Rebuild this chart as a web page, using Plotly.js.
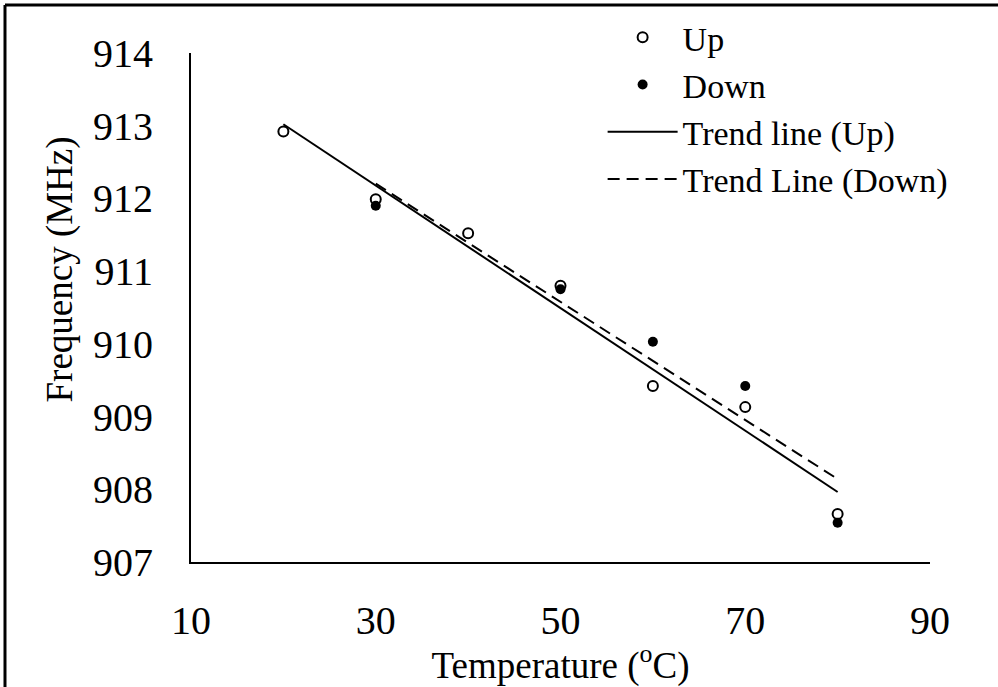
<!DOCTYPE html>
<html>
<head>
<meta charset="utf-8">
<script src="https://cdn.plot.ly/plotly-3.0.1.min.js"></script>
<style>
html,body{margin:0;padding:0;background:#fff;}
#chart{width:998px;height:687px;}
</style>
</head>
<body>
<div id="chart"></div>
<script>
// Data
var tempUp = [20, 30, 40, 50, 60, 70, 80];
var freqUp = [912.92, 911.99, 911.52, 910.80, 909.42, 909.13, 907.66];
var tempDown = [30, 50, 60, 70, 80];
var freqDown = [911.90, 910.75, 910.03, 909.42, 907.54];
var xTicks = [10, 30, 50, 70, 90];
var yTicks = [907, 908, 909, 910, 911, 912, 913, 914];
var seriesNames = ['Up', 'Down', 'Trend line (Up)', 'Trend Line (Down)'];
var xTitle = 'Temperature (<sup>o</sup>C)';
var yTitle = 'Frequency (MHz)';

// Least-squares trend lines from the data
function trend(xs, ys) {
  var n = xs.length, mx = 0, my = 0;
  for (var i = 0; i < n; i++) { mx += xs[i]; my += ys[i]; }
  mx /= n; my /= n;
  var sxy = 0, sxx = 0;
  for (var j = 0; j < n; j++) { sxy += (xs[j] - mx) * (ys[j] - my); sxx += (xs[j] - mx) * (xs[j] - mx); }
  var b = sxy / sxx, a = my - b * mx;
  var x0 = Math.min.apply(null, xs), x1 = Math.max.apply(null, xs);
  return { x: [x0, x1], y: [a + b * x0, a + b * x1] };
}
var tUp = trend(tempUp, freqUp);
var tDown = trend(tempDown, freqDown);

var FONT = 'Liberation Serif, Times New Roman, serif';

var traces = [
  { x: tempUp, y: freqUp, name: seriesNames[0], mode: 'markers', type: 'scatter',
    marker: { symbol: 'circle', size: 10, color: '#ffffff', line: { color: '#000', width: 2 } } },
  { x: tempDown, y: freqDown, name: seriesNames[1], mode: 'markers', type: 'scatter',
    marker: { symbol: 'circle', size: 10, color: '#000' } },
  { x: tUp.x, y: tUp.y, name: seriesNames[2], mode: 'lines', type: 'scatter',
    line: { color: '#000', width: 2 } },
  { x: tDown.x, y: tDown.y, name: seriesNames[3], mode: 'lines', type: 'scatter',
    line: { color: '#000', width: 2, dash: '12px,7px' } }
];

var layout = {
  width: 998, height: 687,
  margin: { l: 191, r: 68, t: 53, b: 125, autoexpand: false },
  paper_bgcolor: '#fff', plot_bgcolor: '#fff',
  font: { family: FONT, color: '#000', size: 38 },
  showlegend: true,
  legend: {
    x: 0.557, y: 1.087, xanchor: 'left', yanchor: 'top',
    bgcolor: 'rgba(0,0,0,0)', font: { family: FONT, size: 34, color: '#000' },
    itemwidth: 70, tracegroupgap: 0
  },
  xaxis: {
    range: [10, 90], tickvals: xTicks, ticktext: xTicks.map(String),
    showgrid: false, zeroline: false, showline: true, linecolor: '#000', linewidth: 2,
    ticks: '', ticklabelstandoff: 22,
    tickfont: { family: FONT, size: 40, color: '#000' },
    title: { text: xTitle, font: { family: FONT, size: 37, color: '#000' }, standoff: 0 }
  },
  yaxis: {
    range: [907, 914], tickvals: yTicks, ticktext: yTicks.map(String),
    showgrid: false, zeroline: false, showline: true, linecolor: '#000', linewidth: 2,
    ticks: '', ticklabelstandoff: 28,
    tickfont: { family: FONT, size: 40, color: '#000' }
  },
  annotations: [
    { text: yTitle, xref: 'paper', yref: 'paper', x: -0.177, y: 0.575,
      xanchor: 'center', yanchor: 'middle', textangle: -90, showarrow: false,
      font: { family: FONT, size: 37, color: '#000' } }
  ],
  shapes: [
    { type: 'line', xref: 'paper', yref: 'paper', x0: -0.2517, x1: 1.2, y0: 1.0943, y1: 1.0943,
      line: { color: '#000', width: 3 } },
    { type: 'line', xref: 'paper', yref: 'paper', x0: -0.2517, x1: -0.2517, y0: -0.3, y1: 1.0943,
      line: { color: '#000', width: 3 } }
  ]
};

Plotly.newPlot('chart', traces, layout, { displayModeBar: false, staticPlot: true });
</script>
</body>
</html>
